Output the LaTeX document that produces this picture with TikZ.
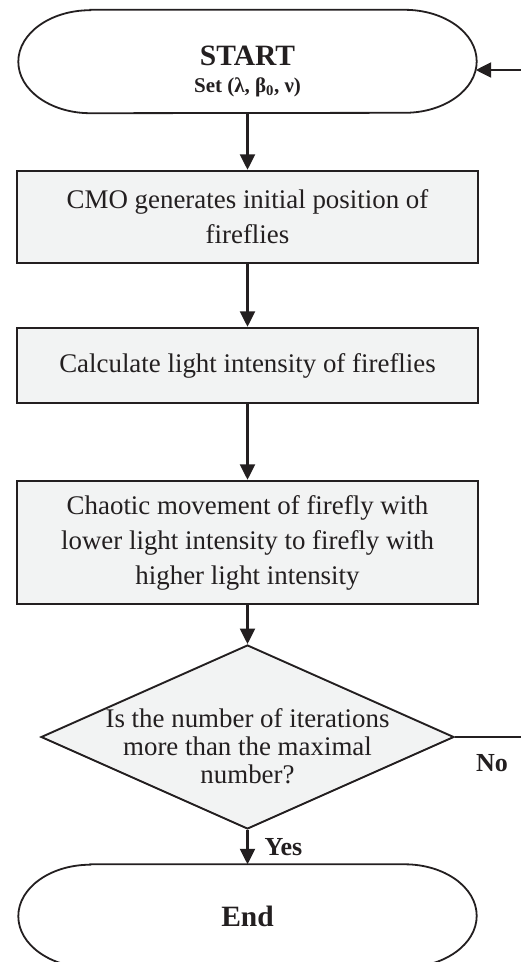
\documentclass[tikz,border=0pt]{standalone}
\usepackage{fontspec}
\setmainfont{Liberation Serif}
\usepackage{tikz}
\usetikzlibrary{arrows.meta,positioning,shapes.geometric}
\definecolor{ink}{HTML}{231F20}
\definecolor{boxfill}{HTML}{F2F3F3}
\tikzset{
  fcbox/.style={draw=ink,fill=boxfill,line width=2.4pt,minimum width=461pt,align=center,inner sep=0pt,font=\fontsize{26.9}{35}\selectfont},
  fcterm/.style={minimum width=458pt,minimum height=103pt,inner sep=0pt,align=center},
  fcline/.style={draw=ink,line width=1.8pt},
  fcdec/.style={shape=diamond,draw=ink,fill=boxfill,line width=1.9pt,minimum width=413pt,minimum height=184pt,inner sep=0pt},
  fcarr/.style={-{Triangle[length=15.5pt,width=15pt]},line width=2.2pt,draw=ink},
  fcwire/.style={line width=2pt,draw=ink},
  fclbl/.style={font=\fontsize{26}{30}\selectfont\bfseries,inner sep=2pt}
}

\begin{document}
\begin{tikzpicture}[x=1pt,y=1pt,color=ink]
  \useasboundingbox (0,0) rectangle (521,-962);
  \node[fcterm] (start) at (247.5,-61.5) {};
  \node[align=center,font=\fontsize{29.5}{27}\selectfont\bfseries] (starttxt) at (247.5,-71) {START\\{\fontsize{21}{25}\selectfont Set (λ, β\textsubscript{0}, ν)}};
  \node[fcbox,minimum height=92pt] (init) at (247.5,-217) {CMO generates initial position of\\ fireflies};
  \node[fcbox,minimum height=75pt] (light) at (247.5,-365.5) {Calculate light intensity of fireflies};
  \node[fcbox,minimum height=123pt] (move) at (247.5,-542.5) {Chaotic movement of firefly with\\ lower light intensity to firefly with\\ higher light intensity};
  \node[fcdec] (dec) at (247.5,-737) {};
  \node[align=center,font=\fontsize{26.9}{28}\selectfont] (dectxt) at (247.5,-746) {Is the number of iterations\\ more than the maximal\\ number?};
  \node[fcterm,font=\fontsize{29.5}{34}\selectfont\bfseries] (end) at (247.5,-916) {End};
  % terminal outlines with flattened ends
  \foreach \t in {start,end}
    \draw[fcline] ([xshift=72]\t.north west) -- ([xshift=-72]\t.north east)
      arc[start angle=90,end angle=-90,x radius=72,y radius=51.5] -- ([xshift=72]\t.south west)
      arc[start angle=270,end angle=90,x radius=72,y radius=51.5] -- cycle;
  \coordinate (back) at (521,-70);
  \draw[fcarr] (back) -- ([xshift=-1]back -| start.east);
  \draw[fcarr] (start) -- (init); \draw[fcarr] (init) -- (light); \draw[fcarr] (light) -- (move); \draw[fcarr] (move) -- (dec);
  \draw[fcarr] (dec) -- node[fclbl,right=14pt] {Yes} (end);
  \draw[fcwire] (dec.east) -- node[fclbl,pos=0.56,below=14pt] {No} (dec.east -| back);
\end{tikzpicture}
\end{document}
